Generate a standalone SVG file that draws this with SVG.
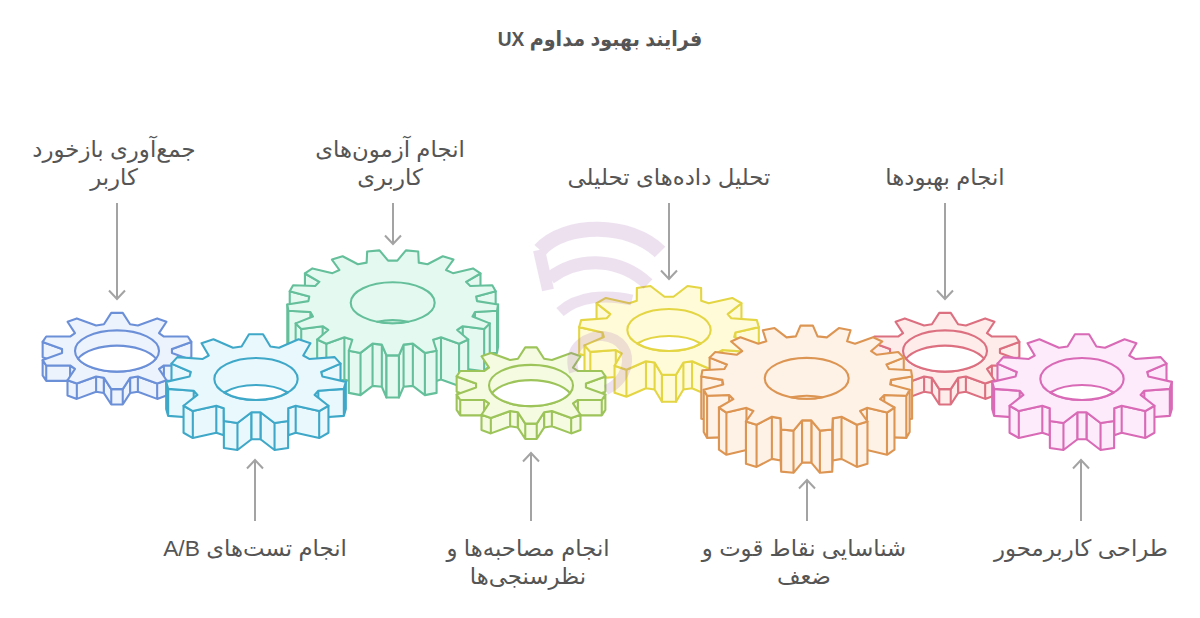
<svg xmlns="http://www.w3.org/2000/svg" xmlns:xlink="http://www.w3.org/1999/xlink" width="1200" height="618" viewBox="0 0 1200 618">
<style>
text{font-family:"Liberation Sans","DejaVu Sans",sans-serif;font-size:22.8px;fill:#555;text-anchor:middle;direction:rtl}
.title{font-weight:bold;font-size:20.6px}
.gear{stroke-width:2.1;stroke-linejoin:round}
defs path,defs ellipse{vector-effect:non-scaling-stroke}
.see{fill:#fff}
.c-blue{fill:#edf3fd;stroke:#6c90d8}
.c-teal{fill:#e8f8fd;stroke:#3fa8c8}
.c-green{fill:#e4faf1;stroke:#64bf9a}
.c-lime{fill:#f4fbe0;stroke:#9dc45a}
.c-yellow{fill:#fffbd8;stroke:#e4d544}
.c-orange{fill:#fef1e6;stroke:#dc9552}
.c-red{fill:#fdecea;stroke:#dc7080}
.c-pink{fill:#fdeafb;stroke:#d86ab6}
.arrow{fill:none;stroke:#a3a3a3;stroke-width:2;marker-end:url(#head)}
.wm{fill:none;stroke:#a870b8;stroke-linecap:butt}
</style>
<defs>
<marker id="head" markerUnits="userSpaceOnUse" markerWidth="20" markerHeight="20" refX="10" refY="10" orient="auto">
<path d="M1.5 2L10 10 1.5 18" fill="none" stroke="#a3a3a3" stroke-width="2"/>
</marker>
<path id="top10" d="M7.5 -49.9L17.1 -35 27.3 -33.3 52.5 -42.6 64.7 -38.2 54.9 -23.3 61.3 -18.9 92.5 -19 97.2 -11.9 71.8 -2.7 71.8 2.7 97.2 11.9 92.5 19 61.3 18.9 54.9 23.3 64.7 38.2 52.5 42.6 27.3 33.3 17.1 35 7.5 49.9 -7.5 49.9 -17.1 35 -27.3 33.3 -52.5 42.6 -64.7 38.2 -54.9 23.3 -61.3 18.9 -92.5 19 -97.2 11.9 -71.8 2.7 -71.8 -2.7 -97.2 -11.9 -92.5 -19 -61.3 -18.9 -54.9 -23.3 -64.7 -38.2 -52.5 -42.6 -27.3 -33.3 -17.1 -35 -7.5 -49.9Z"/>
<path id="top11" d="M7.8 -49.8L16 -36.1 25.6 -34.7 47.3 -44.1 60.5 -39.8 52.5 -26.1 59.1 -22.3 87.4 -24.3 93.9 -17.1 72.4 -7.7 73.8 -2.8 99.8 3.2 97.6 11 69.2 13.1 65.1 17.6 80.5 29.7 70.2 35.6 44.1 29.7 35.8 32.4 35.7 46.7 20.6 48.9 5 36.9 -5 36.9 -20.6 48.9 -35.7 46.7 -35.8 32.4 -44.1 29.7 -70.2 35.6 -80.5 29.7 -65.1 17.6 -69.2 13.1 -97.6 11 -99.8 3.2 -73.8 -2.8 -72.4 -7.7 -93.9 -17.1 -87.4 -24.3 -59.1 -22.3 -52.5 -26.1 -60.5 -39.8 -47.3 -44.1 -25.6 -34.7 -16 -36.1 -7.8 -49.8Z"/>
<path id="top17" d="M4.4 -39.9L12.5 -49.6 24.2 -48.5 24.7 -38 33 -36.4 47.5 -44 57.6 -40.9 50.5 -31 57.1 -28 76.1 -32.5 83.2 -27.7 69.5 -19.8 73.5 -15.8 94.4 -16.5 97.6 -10.8 79.1 -5.9 79.9 -1.5 99.9 1.7 98.9 7.6 78 8.8 75.6 13.1 92 19.6 86.7 24.9 66.4 22.3 61.1 25.8 71.6 34.9 62.9 38.9 45.8 32.8 38.3 35.1 41.6 45.5 30.5 47.6 19.1 38.8 10.3 39.7 5.9 49.9 -5.9 49.9 -10.3 39.7 -19.1 38.8 -30.5 47.6 -41.6 45.5 -38.3 35.1 -45.8 32.8 -62.9 38.9 -71.6 34.9 -61.1 25.8 -66.4 22.3 -86.7 24.9 -92 19.6 -75.6 13.1 -78 8.8 -98.9 7.6 -99.9 1.7 -79.9 -1.5 -79.1 -5.9 -97.6 -10.8 -94.4 -16.5 -73.5 -15.8 -69.5 -19.8 -83.2 -27.7 -76.1 -32.5 -57.1 -28 -50.5 -31 -57.6 -40.9 -47.5 -44 -33 -36.4 -24.7 -38 -24.2 -48.5 -12.5 -49.6 -4.4 -39.9Z"/>
<g id="side10">
<path d="M97.2 -11.9L71.8 -2.7 71.8 17.3 97.2 8.1Z"/>
<path d="M97.2 11.9L92.5 19 61.3 18.9 54.9 23.3 54.9 43.3 61.3 38.9 92.5 39 97.2 31.9ZM92.5 19V39M61.3 18.9V38.9"/>
<path d="M64.7 38.2L52.5 42.6 27.3 33.3 17.1 35 17.1 55 27.3 53.3 52.5 62.6 64.7 58.2ZM52.5 42.6V62.6M27.3 33.3V53.3"/>
</g>
<g id="side11u">
<path d="M93.9 -17.1L72.4 -7.7 72.4 22.3 93.9 12.9Z"/>
<path d="M99.8 3.2L97.6 11 69.2 13.1 65.1 17.6 65.1 47.6 69.2 43.1 97.6 41 99.8 33.2ZM97.6 11V41M69.2 13.1V43.1"/>
<path d="M80.5 29.7L70.2 35.6 44.1 29.7 35.8 32.4 35.8 62.4 44.1 59.7 70.2 65.6 80.5 59.7ZM70.2 35.6V65.6M44.1 29.7V59.7"/>
<path d="M35.7 46.7L20.6 48.9 5 36.9 5 66.9 20.6 78.9 35.7 76.7ZM20.6 48.9V78.9"/>
</g>
<g id="side11d">
<path d="M80.5 -29.7L65.1 -17.6 65.1 12.4 80.5 .3Z"/>
<path d="M99.8 -3.2L73.8 2.8 73.8 32.8 99.8 26.8Z"/>
<path d="M93.9 17.1L87.4 24.3 59.1 22.3 52.5 26.1 52.5 56.1 59.1 52.3 87.4 54.3 93.9 47.1ZM87.4 24.3V54.3M59.1 22.3V52.3"/>
<path d="M60.5 39.8L47.3 44.1 25.6 34.7 16 36.1 7.8 49.8 7.8 79.8 16 66.1 25.6 64.7 47.3 74.1 60.5 69.8ZM47.3 44.1V74.1M25.6 34.7V64.7M16 36.1V66.1"/>
</g>
<g id="side17d">
<path d="M83.2 -27.7L69.5 -19.8 69.5 20.2 83.2 12.3Z"/>
<path d="M97.6 -10.8L79.1 -5.9 79.1 34.1 97.6 29.2Z"/>
<path d="M99.9 1.7L98.9 7.6 78 8.8 75.6 13.1 75.6 53.1 78 48.8 98.9 47.6 99.9 41.7ZM98.9 7.6V47.6M78 8.8V48.8"/>
<path d="M92 19.6L86.7 24.9 66.4 22.3 61.1 25.8 61.1 65.8 66.4 62.3 86.7 64.9 92 59.6ZM86.7 24.9V64.9M66.4 22.3V62.3"/>
<path d="M71.6 34.9L62.9 38.9 45.8 32.8 38.3 35.1 38.3 75.1 45.8 72.8 62.9 78.9 71.6 74.9ZM62.9 38.9V78.9M45.8 32.8V72.8"/>
<path d="M41.6 45.5L30.5 47.6 19.1 38.8 10.3 39.7 5.9 49.9 5.9 89.9 10.3 79.7 19.1 78.8 30.5 87.6 41.6 85.5ZM30.5 47.6V87.6M19.1 38.8V78.8M10.3 39.7V79.7"/>
</g>
<g id="side17u">
<path d="M92 -19.6L75.6 -13.1 75.6 26.9 92 20.4Z"/>
<path d="M99.9 -1.7L79.9 1.5 79.9 41.5 99.9 38.3Z"/>
<path d="M97.6 10.8L94.4 16.5 73.5 15.8 69.5 19.8 69.5 59.8 73.5 55.8 94.4 56.5 97.6 50.8ZM94.4 16.5V56.5M73.5 15.8V55.8"/>
<path d="M83.2 27.7L76.1 32.5 57.1 28 50.5 31 50.5 71 57.1 68 76.1 72.5 83.2 67.7ZM76.1 32.5V72.5M57.1 28V68"/>
<path d="M57.6 40.9L47.5 44 33 36.4 24.7 38 24.2 48.5 12.5 49.6 4.4 39.9 4.4 79.9 12.5 89.6 24.2 88.5 24.7 78 33 76.4 47.5 84 57.6 80.9ZM47.5 44V84M33 36.4V76.4M24.7 38V78M24.2 48.5V88.5M12.5 49.6V89.6"/>
</g>
<g id="hole10"><ellipse rx="54.9" ry="27"/><path class="see" d="M-51 10A54.9 27 0 0 1 51 10A54.9 27 0 0 1 -51 10Z"/></g>
<g id="hole11"><ellipse rx="46.3" ry="23.3"/><path class="see" d="M-35.4 15A46.3 23.3 0 0 1 35.4 15A46.3 23.3 0 0 1 -35.4 15Z"/></g>
<g id="hole17"><ellipse rx="39.8" ry="19.4"/><path d="M-14.8 18A39.8 19.4 0 0 1 14.8 18A39.8 19.4 0 0 1 -14.8 18Z"/></g>
<g id="g10">
<use href="#side10"/><use href="#side10" transform="scale(-1 1)"/>
<path d="M17.1 35L7.5 49.9 -7.5 49.9 -17.1 35 -17.1 55 -7.5 69.9 7.5 69.9 17.1 55ZM7.5 49.9V69.9M-7.5 49.9V69.9"/>
<use href="#top10"/><use href="#hole10"/>
</g>
<g id="g11u">
<use href="#side11u"/><use href="#side11u" transform="scale(-1 1)"/>
<path d="M5 36.9L-5 36.9 -5 66.9 5 66.9Z"/>
<use href="#top11"/><use href="#hole11"/>
</g>
<g id="g11d">
<use href="#side11d"/><use href="#side11d" transform="scale(-1 1)"/>
<path d="M7.8 49.8L-7.8 49.8 -7.8 79.8 7.8 79.8Z"/>
<use href="#top11" transform="scale(1 -1)"/><use href="#hole11"/>
</g>
<g id="g17d">
<use href="#side17d"/><use href="#side17d" transform="scale(-1 1)"/>
<path d="M5.9 49.9L-5.9 49.9 -5.9 89.9 5.9 89.9Z"/>
<use href="#top17"/><use href="#hole17"/>
</g>
<g id="g17u">
<use href="#side17u"/><use href="#side17u" transform="scale(-1 1)"/>
<path d="M4.4 39.9L-4.4 39.9 -4.4 79.9 4.4 79.9Z"/>
<use href="#top17" transform="scale(1 -1)"/><use href="#hole17"/>
</g>
</defs>
<rect width="1200" height="618" fill="#fff"/>
<text id="title" class="title" transform="translate(600 46) scale(.93 1)">فرایند بهبود مداوم UX</text>
<g id="gears">
<g id="gear-blue" class="gear c-blue"><use href="#g10" transform="translate(117 351) scale(.765)"/></g>
<g id="gear-green" class="gear c-green"><use href="#g17d" transform="translate(392.7 302.7) scale(1.055)"/></g>
<g id="gear-teal" class="gear c-teal"><use href="#g11u" transform="translate(256 379) scale(.9)"/></g>
<g id="gear-yellow" class="gear c-yellow"><use href="#g11d" transform="translate(669 330) scale(.9)"/></g>
<g id="gear-lime" class="gear c-lime"><use href="#g10" transform="translate(531 385.5) scale(.765)"/></g>
<g id="gear-red" class="gear c-red"><use href="#g10" transform="translate(945 351) scale(.765)"/></g>
<g id="gear-orange" class="gear c-orange"><use href="#g17u" transform="translate(806.7 378.3) scale(1.055)"/></g>
<g id="gear-pink" class="gear c-pink"><use href="#g11u" transform="translate(1082 379) scale(.9)"/></g>
</g>
<g id="watermark" class="wm" opacity=".2">
<path d="M540 250C565 222 630 222 660 252" stroke-width="15"/>
<path d="M539 250L548 290" stroke-width="12"/>
<path d="M550 278C580 256 620 258 648 284" stroke-width="13"/>
<path d="M560 312C578 296 605 294 632 300" stroke-width="11"/>
<path d="M574 372C566 345 590 335 603 336C622 338 630 352 626 368C622 380 615 386 606 390" stroke-width="10"/>
</g>
<g id="connectors">
<path class="arrow" d="M117 203V299"/>
<path class="arrow" d="M393 203V244"/>
<path class="arrow" d="M669 203V279"/>
<path class="arrow" d="M945 203V299"/>
<path class="arrow" d="M255 521V460"/>
<path class="arrow" d="M531 521V453"/>
<path class="arrow" d="M807 521V480"/>
<path class="arrow" d="M1081 521V460"/>
</g>
<g id="labels">
<text x="114" y="156.5">جمع‌آوری بازخورد</text>
<text x="114" y="184.5">کاربر</text>
<text x="390" y="156.5">انجام آزمون‌های</text>
<text x="390" y="184.5">کاربری</text>
<text x="669" y="184.5">تحلیل داده‌های تحلیلی</text>
<text x="945" y="184.5">انجام بهبودها</text>
<text x="255" y="555.5">انجام تست‌های A/B</text>
<text x="528" y="555.5">انجام مصاحبه‌ها و</text>
<text x="528" y="583.5">نظرسنجی‌ها</text>
<text x="804" y="555.5">شناسایی نقاط قوت و</text>
<text x="804" y="583.5">ضعف</text>
<text x="1081" y="555.5">طراحی کاربرمحور</text>
</g>
</svg>
